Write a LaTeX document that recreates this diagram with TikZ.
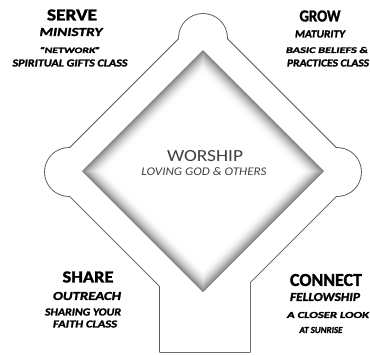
\documentclass[tikz,border=0pt]{standalone}
\usepackage{fontspec}
\setmainfont{Carlito}
\newfontfamily\heavy[FakeBold=1.6]{Carlito}
\newcommand\fitt[3]{\resizebox{#1pt}{#2pt}{#3}}
\begin{document}
\begin{tikzpicture}[x=1pt,y=-1pt,
  rim/.style={draw=black!65,line width=1.8pt,line join=round},
  blank/.style={fill=white},
  lbl/.style={inner sep=0pt,text=black,font=\heavy\bfseries},
  mid/.style={inner sep=0pt,text=black!75}]
\useasboundingbox[fill=white] (0,0) rectangle (370,354);
% outline of the field (union of diamond, plate and corner circles)
\path[rim] (203,15) -- (360,172) -- (250,282) -- (250,352) -- (160,352) -- (160,286) -- (46,172) -- cycle;
\path[rim] (203,38) circle[radius=24];
\path[rim] (69,172) circle[radius=24];
\path[rim] (337,172) circle[radius=24];
\path[blank] (203,15) -- (360,172) -- (250,282) -- (250,352) -- (160,352) -- (160,286) -- (46,172) -- cycle;
\path[blank] (203,38) circle[radius=24];
\path[blank] (69,172) circle[radius=24];
\path[blank] (337,172) circle[radius=24];
% recessed inner diamond
\foreach \i in {0,...,44} {
  \pgfmathsetmacro\h{121-\i*0.5}
  \pgfmathsetmacro\c{50*(1-\i/44)^1.8}
  \fill[black!\c] (203,171-\h) -- (203+\h,171) -- (203,171+\h) -- (203-\h,171) -- cycle;
}
% labels
\node[lbl] (serve) at (72,15) {\fitt{50}{11}{SERVE}};
\node[lbl] (ministry) at (71,32) {\fitt{63}{8}{\itshape MINISTRY}};
\node[lbl] (network) at (70,50) {\fitt{61}{6}{\itshape “NETWORK”}};
\node[lbl] (gifts) at (70,63) {\fitt{115}{7}{\itshape SPIRITUAL GIFTS CLASS}};
\node[lbl] (grow) at (320,16) {\fitt{41}{11}{GROW}};
\node[lbl] (maturity) at (320,34) {\fitt{50}{7}{\itshape MATURITY}};
\node[lbl] (beliefs) at (327,50) {\fitt{82}{6}{\itshape BASIC BELIEFS \&}};
\node[lbl] (practices) at (328,63) {\fitt{82}{7}{\itshape PRACTICES CLASS}};
\node[lbl] (share) at (88,277) {\fitt{51}{11}{SHARE}};
\node[lbl] (outreach) at (87,296) {\fitt{68}{8}{\itshape OUTREACH}};
\node[lbl] (sharing) at (83,312) {\fitt{76}{7}{\itshape SHARING YOUR}};
\node[lbl] (faith) at (85,324) {\fitt{64}{7}{\itshape FAITH CLASS}};
\node[lbl] (connect) at (326,280) {\fitt{72}{12}{CONNECT}};
\node[lbl] (fellowship) at (325,297) {\fitt{70}{8}{\itshape FELLOWSHIP}};
\node[lbl] (closer) at (328,315) {\fitt{82}{6}{\itshape A CLOSER LOOK}};
\node[lbl] (sunrise) at (321,330) {\fitt{43}{6}{\itshape AT SUNRISE}};
\node[mid] (worship) at (205,156) {\fitt{76}{11}{WORSHIP}};
\node[mid] (loving) at (204,172) {\fitt{125}{8}{\itshape LOVING GOD \& OTHERS}};
\end{tikzpicture}
\end{document}
